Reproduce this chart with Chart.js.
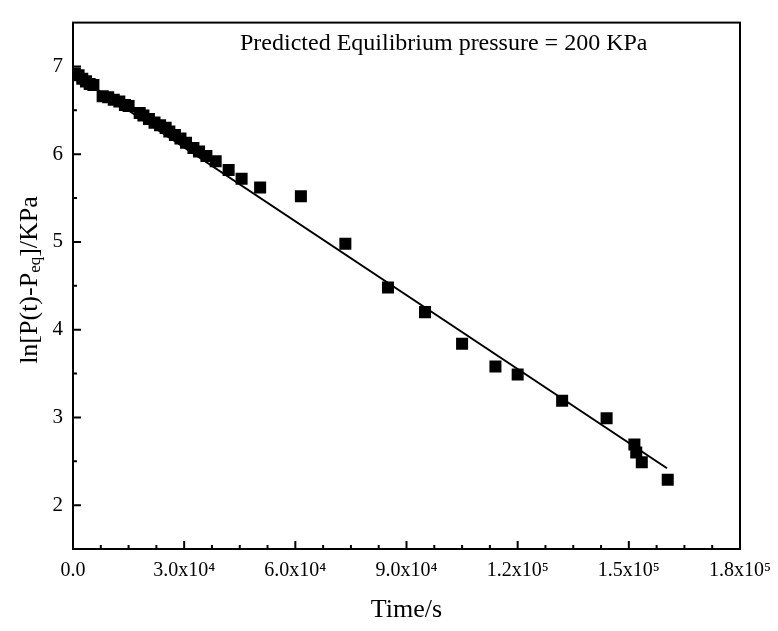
<!DOCTYPE html>
<html>
<head>
<meta charset="utf-8">
<script src="https://cdn.jsdelivr.net/npm/chart.js@4.4.0/dist/chart.umd.min.js"></script>
<style>
    html, body { margin: 0; padding: 0; background: #fff; }
</style>
</head>
<body>
<canvas id="pressureChart" width="778" height="631"></canvas>
<script>
// measured points (time in s, ln[P(t)-Peq])
var timeS = [500, 1500, 2500, 3500, 4500, 5500, 8000, 9500, 11000, 12500, 14000, 15000,
    18000, 19000, 20500, 22000, 23500, 25000, 26000, 27500, 29000, 30500, 32500, 34000,
    36000, 38500, 42000, 45500, 50500, 61500, 73500, 85000, 95000, 105000, 114000,
    120000, 132000, 144000, 151500, 152000, 153500, 160500];
var lnP = [6.92, 6.9, 6.86, 6.83, 6.8, 6.79, 6.66, 6.65, 6.62, 6.6, 6.56, 6.55,
    6.47, 6.44, 6.4, 6.36, 6.33, 6.3, 6.26, 6.22, 6.18, 6.13, 6.07, 6.03,
    5.98, 5.92, 5.82, 5.72, 5.62, 5.52, 4.98, 4.48, 4.2, 3.84, 3.58,
    3.49, 3.19, 2.99, 2.69, 2.6, 2.49, 2.29];

// linear fit
var fitTime = [0, 160300];
var fitLn = [6.92, 2.42];

var xTicks = [0, 30000, 60000, 90000, 120000, 150000, 180000];
var yTicks = [2, 3, 4, 5, 6, 7];
var note = "Predicted Equilibrium pressure = 200 KPa";

var serif = "'Liberation Serif', 'Times New Roman', serif";

function sciLabel(v) {
    if (v === 0) return "0.0";
    var sup = { "4": "\u2074", "5": "\u2075" };
    var e = Math.floor(Math.log10(v));
    return (v / Math.pow(10, e)).toFixed(1) + "x10" + sup[String(e)];
}

// box, inward ticks and the custom texts
var framePlugin = {
    id: "frame",
    afterDraw: function (chart) {
        var ctx = chart.ctx;
        var a = chart.chartArea;
        var xs = chart.scales.x, ys = chart.scales.y;
        ctx.save();
        ctx.strokeStyle = "#000";
        ctx.lineWidth = 2;
        ctx.strokeRect(a.left, a.top, a.right - a.left, a.bottom - a.top);

        ctx.beginPath();
        for (var v = 0; v < 180000; v += 7500) {
            var px = xs.getPixelForValue(v);
            var len = (v % 30000 === 0) ? 8 : 4;
            ctx.moveTo(px, a.bottom);
            ctx.lineTo(px, a.bottom - len);
        }
        for (var w = 2; w <= 7; w += 0.5) {
            var py = ys.getPixelForValue(w);
            var l2 = (w % 1 === 0) ? 8 : 4;
            ctx.moveTo(a.left, py);
            ctx.lineTo(a.left + l2, py);
        }
        ctx.stroke();

        ctx.fillStyle = "#000";
        // note
        ctx.font = "24px " + serif;
        ctx.textAlign = "left";
        ctx.textBaseline = "alphabetic";
        ctx.fillText(note, 240, 50);

        // x title
        ctx.font = "26px " + serif;
        ctx.textAlign = "center";
        ctx.textBaseline = "middle";
        ctx.fillText("Time/s", (a.left + a.right) / 2, 610);

        // y title with subscript
        ctx.translate(30, 280);
        ctx.rotate(-Math.PI / 2);
        var big = "26px " + serif, small = "17px " + serif;
        var parts = [["ln[P(t)-P", big, 0], ["eq", small, 6], ["]/KPa", big, 0]];
        var total = 0;
        parts.forEach(function (p) { ctx.font = p[1]; total += ctx.measureText(p[0]).width; });
        var x0 = -total / 2;
        ctx.textAlign = "left";
        ctx.textBaseline = "middle";
        parts.forEach(function (p) {
            ctx.font = p[1];
            ctx.fillText(p[0], x0, p[2]);
            x0 += ctx.measureText(p[0]).width;
        });
        ctx.restore();
    }
};

var ctxP = document.getElementById("pressureChart").getContext("2d");

var pressureChart = new Chart(ctxP, {
    type: "scatter",
    data: {
        datasets: [{
            label: "data",
            data: timeS.map(function (t, i) { return { x: t, y: lnP[i] }; }),
            pointStyle: "rect",
            pointRadius: 8.5,
            pointHoverRadius: 8.5,
            backgroundColor: "#000",
            borderColor: "#000",
            borderWidth: 0
        }, {
            label: "fit",
            type: "line",
            data: fitTime.map(function (t, i) { return { x: t, y: fitLn[i] }; }),
            borderColor: "#000",
            borderWidth: 2,
            pointRadius: 0,
            fill: false
        }]
    },
    options: {
        responsive: false,
        animation: false,
        layout: { padding: { top: 12, right: 38, left: 0, bottom: 0 } },
        plugins: {
            legend: { display: false },
            tooltip: { enabled: false }
        },
        scales: {
            x: {
                type: "linear",
                min: 0,
                max: 180000,
                grid: { display: false, drawTicks: false },
                border: { display: false },
                afterBuildTicks: function (s) { s.ticks = xTicks.map(function (v) { return { value: v }; }); },
                afterFit: function (s) {
                    s.height = 82;
                    s.paddingLeft = 0;
                    s.paddingRight = 0;
                },
                ticks: {
                    padding: 10,
                    color: "#000",
                    maxRotation: 0,
                    font: { family: serif, size: 20 },
                    callback: function (v) { return sciLabel(v); }
                }
            },
            y: {
                min: 1.5,
                max: 7.5,
                grid: { display: false, drawTicks: false },
                border: { display: false },
                afterBuildTicks: function (s) { s.ticks = yTicks.map(function (v) { return { value: v }; }); },
                afterFit: function (s) { s.width = 73; },
                ticks: {
                    padding: 10,
                    color: "#000",
                    font: { family: serif, size: 21 }
                }
            }
        }
    },
    plugins: [framePlugin]
});
</script>
</body>
</html>
